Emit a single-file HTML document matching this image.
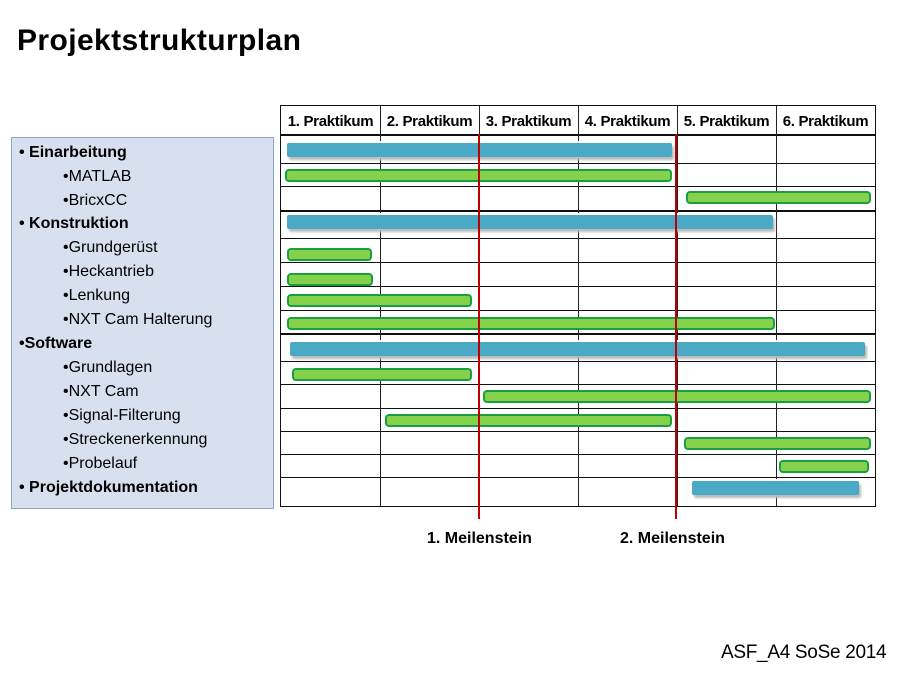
<!DOCTYPE html>
<html><head><meta charset="utf-8"><style>
body{margin:0;width:900px;height:675px;background:#fff;position:relative;overflow:hidden;font-family:"Liberation Sans",sans-serif;}
.a{position:absolute;}
.t{position:absolute;white-space:nowrap;}
.h{position:absolute;top:107px;height:28px;line-height:30px;font-size:15px;font-weight:bold;text-align:center;width:99px;letter-spacing:-0.3px;}
.hl{position:absolute;left:281px;width:594px;height:1px;background:#111;}
.vl{position:absolute;top:106px;height:400px;width:1px;background:#222;}
.g{position:absolute;height:9px;background:#86d14c;border:2px solid #18a040;border-radius:4px;}
.b{position:absolute;height:14px;background:#4aaac6;border-radius:2px;box-shadow:2px 3px 2px #bbb,-2px -2px 0 #fff;}
.li{position:absolute;left:19px;font-size:16px;color:#000;}
</style></head><body>
<div class="t" style="left:17px;top:24px;font-size:30px;font-weight:bold;letter-spacing:0.4px;">Projektstrukturplan</div>

<div class="a" style="left:11px;top:137px;width:261px;height:370px;background:#d6e0ee;border:1px solid #8ea6cc;"></div>
<div class="li" style="top:144px;font-weight:bold;">• Einarbeitung</div>
<div class="li" style="top:168px;left:63px;">•MATLAB</div>
<div class="li" style="top:192px;left:63px;">•BricxCC</div>
<div class="li" style="top:215px;font-weight:bold;">• Konstruktion</div>
<div class="li" style="top:239px;left:63px;">•Grundgerüst</div>
<div class="li" style="top:263px;left:63px;">•Heckantrieb</div>
<div class="li" style="top:287px;left:63px;">•Lenkung</div>
<div class="li" style="top:311px;left:63px;">•NXT Cam Halterung</div>
<div class="li" style="top:335px;font-weight:bold;">•Software</div>
<div class="li" style="top:359px;left:63px;">•Grundlagen</div>
<div class="li" style="top:383px;left:63px;">•NXT Cam</div>
<div class="li" style="top:407px;left:63px;">•Signal-Filterung</div>
<div class="li" style="top:431px;left:63px;">•Streckenerkennung</div>
<div class="li" style="top:455px;left:63px;">•Probelauf</div>
<div class="li" style="top:479px;font-weight:bold;">• Projektdokumentation</div>

<div class="a" style="left:280px;top:105px;width:594px;height:400px;border:1px solid #111;"></div>
<div class="hl" style="top:134px;height:2px"></div>
<div class="hl" style="top:163px"></div>
<div class="hl" style="top:186px"></div>
<div class="hl" style="top:210px;height:2px"></div>
<div class="hl" style="top:238px"></div>
<div class="hl" style="top:262px"></div>
<div class="hl" style="top:286px"></div>
<div class="hl" style="top:310px"></div>
<div class="hl" style="top:333px;height:2px"></div>
<div class="hl" style="top:361px"></div>
<div class="hl" style="top:384px"></div>
<div class="hl" style="top:408px"></div>
<div class="hl" style="top:431px"></div>
<div class="hl" style="top:454px"></div>
<div class="hl" style="top:477px"></div>
<div class="vl" style="left:380px"></div>
<div class="vl" style="left:479px"></div>
<div class="vl" style="left:578px"></div>
<div class="vl" style="left:677px"></div>
<div class="vl" style="left:776px"></div>

<div class="h" style="left:281px">1. Praktikum</div>
<div class="h" style="left:380px">2. Praktikum</div>
<div class="h" style="left:479px">3. Praktikum</div>
<div class="h" style="left:578px">4. Praktikum</div>
<div class="h" style="left:677px">5. Praktikum</div>
<div class="h" style="left:776px">6. Praktikum</div>

<div class="b" style="left:287px;top:143px;width:385px"></div>
<div class="g" style="left:285px;top:169px;width:383px"></div>
<div class="g" style="left:686px;top:191px;width:181px"></div>
<div class="b" style="left:287px;top:215px;width:486px"></div>
<div class="g" style="left:287px;top:248px;width:81px"></div>
<div class="g" style="left:287px;top:273px;width:82px"></div>
<div class="g" style="left:287px;top:294px;width:181px"></div>
<div class="g" style="left:287px;top:317px;width:484px"></div>
<div class="b" style="left:290px;top:342px;width:575px"></div>
<div class="g" style="left:292px;top:368px;width:176px"></div>
<div class="g" style="left:483px;top:390px;width:384px"></div>
<div class="g" style="left:385px;top:414px;width:283px"></div>
<div class="g" style="left:684px;top:437px;width:183px"></div>
<div class="g" style="left:779px;top:460px;width:86px"></div>
<div class="b" style="left:692px;top:481px;width:167px"></div>

<div class="a" style="left:478px;top:134px;width:2px;height:385px;background:#c00000"></div>
<div class="a" style="left:675px;top:134px;width:2px;height:385px;background:#c00000"></div>

<div class="t" style="left:427px;top:530px;font-size:16px;font-weight:bold;">1. Meilenstein</div>
<div class="t" style="left:620px;top:530px;font-size:16px;font-weight:bold;">2. Meilenstein</div>
<div class="t" style="left:721px;top:642px;font-size:19px;letter-spacing:-0.3px;">ASF_A4 SoSe 2014</div>
</body></html>
